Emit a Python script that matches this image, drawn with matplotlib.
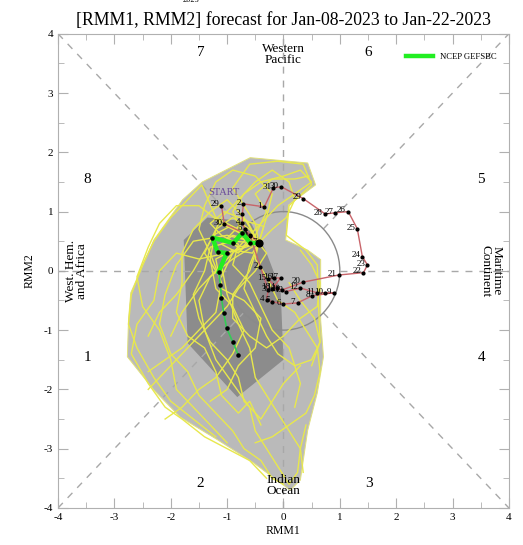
import numpy as np
import pandas as pd
import matplotlib
matplotlib.use("Agg")
import matplotlib.pyplot as plt
from matplotlib.patches import Polygon, Circle

plt.rcParams['font.family'] = ['Liberation Serif', 'DejaVu Serif']
plt.rcParams['axes.unicode_minus'] = False

# observed RMM1/RMM2, 29 Nov 2022 .. 07 Jan 2023
obs_dates = pd.date_range('2022-11-29', '2023-01-07', freq='D')
obs_rmm1 = [-1.10, -1.05,
            -0.59, -0.41, -0.27, -0.30, -0.20, 0.00, 0.25, 0.51, 0.89, 0.74,
            0.60, 0.30, 0.04, -0.11, -0.27, -0.16, -0.05, -0.20, -0.02, 0.35,
            0.98, 1.42, 1.49, 1.40, 1.31, 1.15, 0.92, 0.74, 0.35, -0.04, -0.18,
            -0.34, -0.71, -0.73, -0.73, -0.69, -0.59, -0.44]
obs_rmm2 = [1.10, 0.79,
            0.59, 0.07, -0.32, -0.49, -0.52, -0.56, -0.54, -0.42, -0.37, -0.37,
            -0.37, -0.29, -0.35, -0.29, -0.14, -0.12, -0.12, -0.30, -0.32, -0.19,
            -0.07, -0.03, 0.10, 0.24, 0.71, 1.00, 0.98, 0.96, 1.22, 1.42, 1.40,
            1.08, 1.13, 0.96, 0.81, 0.71, 0.61, 0.47]

# ensemble mean forecast (NCEP GEFSBC), starting from last observed day
fc_rmm1 = [-0.44, -0.59, -0.73, -0.89, -1.26, -1.17, -1.01, -1.15, -1.12,
           -1.10, -1.06, -1.01, -0.90, -0.80]
fc_rmm2 = [0.47, 0.47, 0.64, 0.47, 0.56, 0.32, 0.30, -0.02, -0.24,
           -0.46, -0.71, -0.96, -1.20, -1.42]

# some ensemble members (yellow)
members = [
    [(-0.44, 0.47), (-0.5, 0.8), (-0.7, 1.1), (-0.9, 1.4), (-0.6, 1.8), (-0.1, 1.85), (0.35, 1.8),
     (0.5, 1.45), (0.1, 1.1), (0.05, 0.6), (0.4, 0.35), (0.6, 0.1), (0.62, -0.5), (0.65, -1.2), (0.5, -1.6)],
    [(-0.44, 0.47), (-0.8, 0.7), (-1.2, 0.9), (-1.45, 1.45), (-1.7, 1.2), (-2.0, 0.9), (-2.3, 0.5),
     (-2.5, 0.1), (-2.7, -0.4), (-2.75, -0.9), (-2.6, -1.3), (-2.3, -1.8), (-2.0, -2.2), (-1.6, -2.5), (-1.2, -2.8)],
    [(-0.44, 0.47), (-0.9, 0.2), (-1.3, -0.1), (-1.5, -0.5), (-1.4, -1.0), (-1.2, -1.5), (-0.9, -1.9),
     (-0.6, -2.3), (-0.5, -2.7), (-0.3, -3.0), (-0.1, -3.3), (0.1, -3.6), (0.25, -3.4), (0.3, -3.0), (0.4, -2.6)],
    [(-0.44, 0.47), (-0.6, 0.1), (-0.7, -0.3), (-0.5, -0.7), (-0.3, -1.1), (-0.1, -1.4), (0.2, -1.6),
     (0.5, -1.5), (0.65, -1.2), (0.55, -0.8), (0.3, -0.5), (0.1, -0.2)],
    [(-0.44, 0.47), (-1.0, 0.6), (-1.6, 0.5), (-1.9, 0.1), (-2.1, -0.4), (-2.2, -0.9), (-2.0, -1.4),
     (-1.7, -1.7), (-1.5, -2.1), (-1.2, -2.4), (-0.9, -2.7), (-0.7, -3.0), (-0.4, -3.2), (-0.2, -3.5), (0.0, -3.6)],
    [(-0.44, 0.47), (-0.7, 0.9), (-1.0, 1.2), (-1.3, 1.0), (-1.6, 0.7), (-1.8, 0.3), (-1.8, -0.2),
     (-1.9, -0.7), (-1.7, -1.1), (-1.4, -1.3), (-1.2, -1.7), (-1.1, -2.1), (-0.8, -2.4), (-0.6, -2.2), (-0.4, -2.6)],
    [(-0.44, 0.47), (-0.3, 0.9), (-0.2, 1.3), (-0.5, 1.6), (-0.9, 1.7), (-1.2, 1.5), (-1.4, 1.1),
     (-1.5, 0.7), (-1.3, 0.3), (-1.1, -0.2), (-1.2, -0.7), (-1.5, -1.0), (-1.8, -1.3), (-2.1, -1.5), (-2.4, -1.7)],
    [(-0.44, 0.47), (-0.8, 0.4), (-1.1, 0.1), (-1.0, -0.4), (-0.8, -0.9), (-0.6, -1.3), (-0.5, -1.8),
     (-0.3, -2.1), (-0.1, -2.4), (0.1, -2.7), (0.3, -3.0), (0.35, -3.4)],
    [(-0.44, 0.47), (-0.5, 0.2), (-0.3, -0.1), (-0.1, -0.5), (0.2, -0.7), (0.4, -1.0), (0.6, -1.3),
     (0.65, -1.7), (0.55, -2.1), (0.4, -2.4), (0.1, -2.6), (-0.2, -2.8), (-0.5, -2.9)],
    [(-0.44, 0.47), (-1.1, 0.8), (-1.5, 1.1), (-1.9, 1.1), (-2.2, 0.8), (-2.4, 0.4), (-2.6, -0.1),
     (-2.5, -0.6), (-2.2, -1.0), (-2.0, -1.5), (-1.9, -2.0), (-1.6, -2.3), (-1.3, -2.6), (-1.0, -2.9)],
    [(-0.44, 0.47), (-0.2, 0.7), (0.05, 0.9), (0.2, 1.2), (0.1, 1.5), (-0.2, 1.7), (-0.5, 1.5),
     (-0.8, 1.2), (-1.1, 0.9), (-1.3, 0.5), (-1.6, 0.0), (-1.9, -0.4), (-2.2, -0.7), (-2.4, -1.1)],
    [(-0.44, 0.47), (-0.9, 0.5), (-1.3, 0.4), (-1.4, 0.0), (-1.6, -0.4), (-1.5, -0.8), (-1.3, -1.2),
     (-1.0, -1.5), (-0.8, -1.8), (-0.7, -2.2), (-0.4, -2.5), (-0.2, -2.2), (0.0, -1.9), (0.3, -1.6)],
    [(-0.44, 0.47), (-0.6, 0.7), (-0.9, 0.9), (-1.2, 0.7), (-1.3, 0.2), (-1.2, -0.3), (-0.9, -0.6),
     (-0.7, -1.0), (-0.9, -1.4), (-1.2, -1.8), (-1.5, -2.0), (-1.8, -2.3), (-2.1, -2.5)],
    [(-0.44, 0.47), (-0.3, 0.3), (-0.5, 0.0), (-0.8, -0.3), (-1.0, -0.6), (-1.3, -0.9), (-1.6, -1.2),
     (-1.9, -1.5), (-2.2, -1.8), (-2.4, -2.0)],
    [(-0.44, 0.47), (-1.0, 0.3), (-1.5, 0.2), (-1.9, 0.3), (-2.2, 0.0), (-2.3, -0.5), (-2.6, -0.9),
     (-2.7, -1.4), (-2.4, -1.9), (-2.1, -2.3), (-1.8, -2.5), (-1.4, -2.8), (-1.0, -3.0), (-0.6, -3.2), (-0.3, -3.5)],
    [(-0.44, 0.47), (-0.6, 0.0), (-0.9, -0.4), (-0.9, -0.8), (-0.6, -1.1), (-0.3, -1.3), (0.0, -1.1),
     (0.3, -0.8), (0.6, -0.6), (0.65, -0.2), (0.5, 0.1), (0.3, 0.35)],
    [(-0.44, 0.47), (-0.7, 0.6), (-0.9, 1.0), (-0.7, 1.3), (-0.4, 1.5), (0.0, 1.6), (0.3, 1.7),
     (0.5, 1.5), (0.2, 1.3), (-0.1, 1.1), (-0.3, 0.9), (-0.6, 0.6), (-0.9, 0.3), (-1.1, -0.1)],
    [(-0.44, 0.47), (-0.9, 0.6), (-1.1, 0.45), (-0.8, 0.3), (-0.6, 0.55), (-0.95, 0.75), (-1.25, 0.6),
     (-1.4, 0.3), (-1.2, 0.0), (-1.5, -0.3), (-1.8, -0.7), (-2.0, -1.1)],
    [(-0.44, 0.47), (-0.35, 0.75), (-0.7, 0.85), (-1.0, 0.55), (-0.75, 0.35), (-0.5, 0.6), (-0.3, 1.0),
     (-0.5, 1.3), (-0.2, 1.55), (0.2, 1.55), (0.45, 1.6)],
    [(-0.44, 0.47), (-0.55, 0.3), (-0.9, 0.35), (-1.2, 0.2), (-1.1, -0.3), (-0.7, -0.5), (-0.4, -0.8),
     (-0.5, -1.3), (-0.8, -1.6), (-1.0, -2.0), (-1.3, -2.2)],
    [(-0.44, 0.47), (-0.65, 0.85), (-1.05, 1.0), (-1.3, 0.8), (-1.1, 0.6), (-0.8, 0.45), (-0.9, 0.1),
     (-0.6, -0.2), (-0.4, -0.6), (-0.2, -1.0), (0.1, -1.3), (0.3, -1.9), (0.2, -2.3)],
]

# ensemble spread areas
outer_x = [-1.44, -0.59, 0.43, 0.57, 0.09, 0.04, 0.43, 0.66, 0.66, 0.71, 0.60, 0.43, 0.30,
           0.12, -0.05, -0.53, -1.17, -1.83, -2.30, -2.77, -2.75, -2.71, -2.30, -1.79]
outer_y = [1.50, 1.91, 1.82, 1.45, 1.11, 0.52, 0.35, 0.19, -0.83, -1.45, -2.06, -2.69, -3.53,
           -3.70, -3.58, -3.24, -2.85, -2.47, -2.01, -1.45, -0.83, -0.37, 0.52, 1.20]
inner_x = [-1.35, -0.59, -0.32, -0.05, 0.0, -0.82, -1.70, -1.77]
inner_y = [0.90, 0.83, 0.35, -0.32, -1.50, -2.13, -1.22, 0.52]

phase_labels = ['1', '2', '3', '4', '5', '6', '7', '8']
phase_x = [-3.48, -1.47, 1.51, 3.51, 3.51, 1.51, -1.47, -3.48]
phase_y = [-1.47, -3.58, -3.58, -1.47, 1.54, 3.68, 3.68, 1.54]

fig = plt.figure(figsize=(5.23, 5.45), dpi=100)
ax = fig.add_axes([0.111, 0.068, 0.862, 0.870])
ax.set_xlim(-4, 4)
ax.set_ylim(-4, 4)

ax.add_patch(Polygon(np.column_stack([outer_x, outer_y]), closed=True,
                     facecolor='#bababa', edgecolor='#e2e27a', lw=0.7, zorder=1))
ax.add_patch(Polygon(np.column_stack([inner_x, inner_y]), closed=True,
                     facecolor='#8c8c8c', edgecolor='none', zorder=1.5))

# phase boundary lines (outside unit circle)
dash = dict(color='#a8a8a8', lw=1.0, ls=(0, (5, 5)), zorder=2)
s = 1 / np.sqrt(2)
ax.plot([-4, -s], [-4, -s], **dash)
ax.plot([s, 4], [s, 4], **dash)
ax.plot([-4, -s], [4, s], **dash)
ax.plot([s, 4], [-s, -4], **dash)
ax.plot([-4, -1], [0, 0], **dash)
ax.plot([1, 4], [0, 0], **dash)
ax.plot([0, 0], [1, 4], **dash)
ax.plot([0, 0], [-4, -1], **dash)
ax.add_patch(Circle((0, 0), 1, fill=False, edgecolor='#8a8a8a', lw=1.0, zorder=2))

for m in members:
    mx, my = zip(*m)
    ax.plot(mx, my, color='#e8e84c', lw=1.0, zorder=3)

# observed
ax.plot(obs_rmm1, obs_rmm2, color='#c8646a', lw=1.0, zorder=4)
ax.scatter(obs_rmm1, obs_rmm2, s=4, color='black', zorder=5)
for d, x, y in zip(obs_dates, obs_rmm1, obs_rmm2):
    ax.text(x - 0.04, y + 0.02, str(d.day), fontsize=6.5, ha='right', va='center', zorder=6)
ax.text(obs_rmm1[0] + 0.05, obs_rmm2[0] + 0.15, 'START', color='#6a4a9a', fontsize=7.5,
        ha='center', va='bottom', zorder=6)

# forecast ensemble mean
ax.plot(fc_rmm1[:8], fc_rmm2[:8], color='#22ee22', lw=3.2, zorder=6,
        label='NCEP GEFSBC')
ax.plot(fc_rmm1[7:], fc_rmm2[7:], color='#33cc55', lw=1.2, zorder=6)
ax.scatter(fc_rmm1[1:], fc_rmm2[1:], s=5, color='black', zorder=7)
ax.scatter(fc_rmm1[:1], fc_rmm2[:1], s=24, color='black', zorder=7)

for t, x, y in zip(phase_labels, phase_x, phase_y):
    ax.text(x, y, t, fontsize=11, ha='center', va='center')
ax.text(0, 3.65, 'Western\nPacific', fontsize=9.5, ha='center', va='center', linespacing=0.9)
ax.text(0, -3.62, 'Indian\nOcean', fontsize=9.5, ha='center', va='center', linespacing=0.9)
ax.text(-3.68, 0, 'West. Hem.\nand Africa', fontsize=9.5, ha='center', va='center',
        rotation=90, linespacing=0.9)
ax.text(3.68, 0, 'Maritime\nContinent', fontsize=9.5, ha='center', va='center',
        rotation=-90, linespacing=0.9)

leg = ax.legend(loc='upper right', bbox_to_anchor=(0.99, 0.975), frameon=False,
                fontsize=6.2, handlelength=3.2)

ax.set_xticks(np.arange(-4, 5, 1))
ax.set_yticks(np.arange(-4, 5, 1))
ax.set_xticks(np.arange(-4, 4.5, 0.5), minor=True)
ax.set_yticks(np.arange(-4, 4.5, 0.5), minor=True)
ax.tick_params(which='both', direction='in', top=True, right=True, color='#b0b0b0',
               labelsize=8)
ax.tick_params(which='major', length=7)
ax.tick_params(which='minor', length=4)
for sp in ax.spines.values():
    sp.set_color('#b0b0b0')
ax.set_xlabel('RMM1', fontsize=8.5, labelpad=2)
ax.set_ylabel('RMM2', fontsize=8.5, labelpad=6)
ax.set_title('[RMM1, RMM2] forecast for Jan-08-2023 to Jan-22-2023', fontsize=12.8, pad=6)
fig.text(0.365, 1.0, '2023', fontsize=6, ha='center', va='center')

fig.savefig('out.png', dpi=100)
